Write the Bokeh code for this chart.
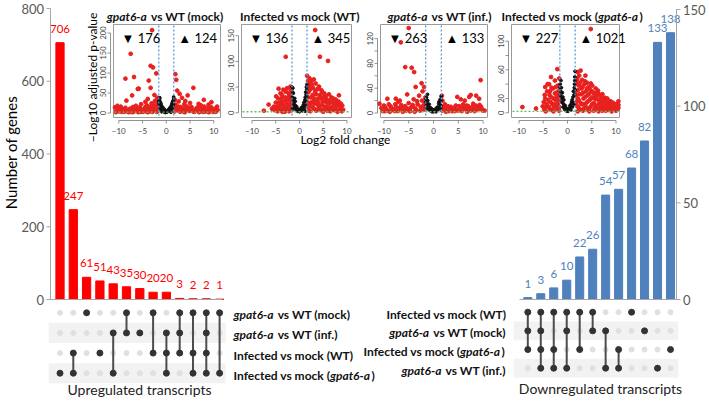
import math
from bokeh.plotting import figure
from bokeh.models import Range1d, ColumnDataSource
from bokeh.core.properties import value, field
from bokeh.embed import file_html
from bokeh.resources import INLINE

# ---------------- data ----------------
up_values = [706, 247, 61, 51, 43, 35, 30, 20, 20, 3, 2, 2, 1]
up_sets = ["*gpat6-a* vs WT (mock)", "*gpat6-a* vs WT (inf.)",
           "Infected vs mock (WT)", "Infected vs mock (*gpat6-a*)"]
up_members = [[3], [2, 3], [0], [2], [1, 3], [0, 1], [1], [0, 2], [1, 2, 3],
              [0, 1, 2], [0, 2, 3], [0, 1, 2, 3], [0, 3]]
up_ticks = [0, 200, 400, 600, 800]

down_values = [1, 3, 6, 10, 22, 26, 54, 57, 68, 82, 133, 138]
down_sets = ["Infected vs mock (WT)", "*gpat6-a* vs WT (mock)",
             "Infected vs mock (*gpat6-a*)", "*gpat6-a* vs WT (inf.)"]
down_members = [[0, 1, 2], [0, 1, 2, 3], [0, 2, 3], [0, 1, 3], [0, 2], [0, 1],
                [1, 3], [2, 3], [0], [1], [3], [2]]
down_ticks = [0, 50, 100, 150]

vol_titles = ["*gpat6-a* vs WT (mock)", "Infected vs mock (WT)",
              "*gpat6-a* vs WT (inf.)", "Infected vs mock (*gpat6-a*)"]
vol_down = [176, 136, 263, 227]
vol_up = [124, 345, 133, 1021]
vol_xticks = [-10, -5, 0, 5, 10]
vol_yticks = [[0, 50, 100, 150, 200], [0, 50, 100, 150],
              [0, 20, 40, 60, 80, 100, 120], [0, 20, 40, 60, 80, 100]]
vol_ylabels = [[0, 50, 100, 150, 200], [0, 50, 100, 150],
               [0, 40, 80, 120], [0, 20, 60, 100]]
fc_cut = 1.58
p_cut = 2.0

v1_red = [(-3.0,207),(-7.5,148),(-8.6,86),(-6.8,90),(-5.8,61),(-3.3,118),(-2.8,114),(-2.1,99),
          (-3.7,81),(-3.3,63),(-6.0,60),(-7.2,44),(-8.4,31),(-10.3,18),(1.9,97),(2.1,83),(2.3,56),
          (5.7,63),(4.5,44),(7.9,33),(9.5,27),(10.7,16),(6.8,23),(-2.5,45),
          (-10.8,14),(-10.2,10),(-9.6,16),(-9.1,8),(-8.6,13),(-8.1,6),(-7.6,11),(-7.0,15),(-6.6,5),
          (-6.1,9),(-5.6,14),(-5.1,6),(-4.6,11),(-4.1,19),(-3.6,8),(-3.1,24),(-2.8,12),(-2.4,30),
          (-2.2,6),(-2.0,18),(-1.9,38),(-1.7,10),(-1.8,26),(-4.4,28),(-5.3,22),(-3.9,35),(-6.4,18),
          (1.7,12),(1.8,33),(2.0,21),(2.3,8),(2.6,29),(3.0,15),(3.4,6),(3.8,22),(4.2,10),(4.9,5),
          (5.3,15),(5.9,8),(6.4,12),(7.0,5),(7.4,10),(8.0,16),(8.6,6),(9.1,11),(9.8,7),(10.5,12),
          (3.3,38),(2.8,48),(4.0,30),(5.0,25),(7.3,19),(8.9,21),
          (-9.9,4),(-8.9,3),(-7.9,2),(-6.9,3),(-5.9,2),(-4.9,3),(-3.9,2),(-2.9,3),(2.9,3),(3.9,2),
          (4.9,12),(5.9,3),(6.9,2),(7.9,3),(8.9,2),(9.9,3),(-10.5,6),(-9.3,11),(-7.3,7),(-5.3,9),
          (-4.3,4),(-3.3,16),(-2.6,20),(2.5,16),(3.6,13),(4.6,8),(6.1,5),(6.8,10),(8.3,4),(9.5,14),
          (10.2,5),(-10.6,2),(-10.0,7),(-9.4,3),(-8.8,9),(-8.3,4),(-7.7,8),(-7.2,2),(-6.8,7),
          (-6.3,12),(-5.8,5),(-5.4,3),(-4.8,8),(-4.4,15),(-3.8,12),(-3.4,4),(-2.5,9),(-2.0,3),
          (-1.75,18),(1.75,4),(2.1,12),(2.6,6),(3.2,10),(3.7,3),(4.4,16),(5.1,9),(5.6,4),(6.2,8),
          (6.7,15),(7.2,7),(7.7,3),(8.2,9),(8.8,13),(9.3,4),(9.7,9),(10.4,3),(10.8,8)]
v1_black = [(-1.55,30),(-1.45,20),(-1.35,38),(-1.25,12),(-1.1,22),(-0.95,8),(-0.8,15),(-0.6,5),
            (-0.45,10),(-0.3,3),(-0.1,6),(0.1,2),(0.3,5),(0.5,9),(0.65,4),(0.8,14),(0.95,7),
            (1.1,20),(1.25,11),(1.35,28),(1.45,17),(1.55,35),(-1.0,3),(1.0,2),(-0.2,1),
            (-1.5,25),(-1.4,32),(-1.3,18),(-1.2,26),(-1.15,8),(-1.0,16),(-0.9,12),(-0.7,9),
            (-0.55,3),(-0.4,6),(0.0,4),(0.2,3),(0.4,7),(0.6,8),(0.75,10),(0.9,12),(1.05,15),
            (1.2,24),(1.3,18),(1.4,30),(1.5,22),(1.55,40)]

v2_red = [(3.3,161),(-2.9,109),(4.3,109),(6.0,101),(-7.5,4),(-6.5,16),
          (-4.4,47),(-1.9,51),(-3.7,35),(-2.9,41),(-5.0,20),(-4.8,8),(-4.5,28),(-4.2,15),(-3.9,5),
          (-3.6,22),(-3.3,12),(-3.0,30),(-2.7,18),(-2.5,6),(-2.3,38),(-2.1,25),(-1.9,12),(-1.8,44),
          (-1.7,30),(-1.65,5),(-4.0,38),(-3.4,45),(-2.6,48),(-5.4,12),(-4.6,3),(-3.1,2),(-2.2,3),
          (1.6,72),(2.1,67),(3.0,65),(3.4,57),(4.1,51),(5.2,38),(8.3,34),(7.6,26),(9.0,14),(1.7,50),
          (1.8,30),(1.9,10),(2.2,45),(2.4,20),(2.6,55),(2.8,35),(3.1,8),(3.3,42),(3.6,25),(3.9,15),
          (4.3,35),(4.6,5),(4.9,22),(5.3,12),(5.6,28),(6.0,8),(6.3,18),(6.7,30),(7.0,12),(7.4,5),
          (7.8,15),(8.2,22),(8.6,8),(8.9,3),(2.5,62),(4.6,44),(6.2,36),(2.0,58),(5.8,20),(7.2,20),
          (2.3,3),(3.5,4),(5.0,2),(6.5,3),(8.0,2),(4.0,28),(3.0,22),(2.0,16),
          (-4.9,32),(-4.7,12),(-4.3,20),(-4.1,9),(-3.8,28),(-3.5,16),(-3.2,6),(-2.9,24),(-2.8,10),
          (-2.4,30),(-2.2,15),(-2.0,35),(-1.85,22),(-1.7,16),(-3.6,2),(-5.2,5),(-5.8,8),
          (1.7,20),(1.8,62),(1.9,40),(2.0,4),(2.3,52),(2.4,30),(2.7,12),(2.9,48),(3.0,28),(3.2,18),
          (3.5,36),(3.7,6),(3.8,46),(4.0,20),(4.2,10),(4.5,28),(4.7,15),(4.8,40),(5.0,30),(5.1,6),
          (5.4,22),(5.5,33),(5.7,12),(5.9,4),(6.1,24),(6.4,10),(6.6,22),(6.9,6),(7.1,28),(7.3,16),
          (7.6,10),(7.9,20),(8.1,4),(8.4,14),(8.7,18),(9.2,6)]
v2_black = [(-1.55,50),(-1.45,40),(-1.35,28),(-1.2,18),(-1.05,10),(-0.9,22),(-0.75,6),(-0.6,12),
            (-0.4,3),(-0.2,7),(0.0,2),(0.2,5),(0.4,10),(0.6,4),(0.8,15),(1.0,8),(1.15,25),(1.3,14),
            (1.4,35),(1.5,45),(1.55,55),(-1.5,8),(1.2,3),
            (-1.5,30),(-1.4,48),(-1.3,38),(-1.25,22),(-1.1,15),(-1.0,28),(-0.85,14),(-0.7,9),
            (-0.5,6),(-0.3,4),(0.1,3),(0.3,6),(0.5,8),(0.7,11),(0.9,20),(1.05,14),(1.2,30),
            (1.3,40),(1.35,22),(1.45,50),(1.5,30)]

v3_red = [(-5.0,137),(-6.6,114),(-5.7,74),(-4.4,73),(-3.9,66),(-3.6,42),(-1.9,42),(-2.2,35),
          (-9.3,23),(-7.6,23),(-7.1,18),(-10.9,15),(4.8,26),(5.5,22),(7.2,26),(7.5,29),(8.0,15),
          (9.2,23),(9.5,53),
          (-10.5,8),(-10.0,12),(-9.5,5),(-9.0,14),(-8.5,9),(-8.0,4),(-7.5,10),(-7.0,6),(-6.5,13),
          (-6.0,8),(-5.5,4),(-5.0,16),(-4.5,9),(-4.0,22),(-3.5,5),(-3.2,14),(-2.9,28),(-2.6,10),
          (-2.3,20),(-2.0,6),(-1.8,15),(-1.65,25),(-5.3,30),(-6.8,20),(-2.4,48),
          (1.7,10),(1.8,20),(2.0,5),(2.3,14),(2.7,8),(3.1,3),(3.5,10),(4.0,6),(4.5,12),(5.0,4),
          (5.5,9),(6.0,14),(6.5,6),(7.0,11),(7.5,4),(8.0,8),(8.5,12),(9.0,6),(9.6,10),(1.7,28),
          (6.3,20),(8.6,28),(-9.8,3),(-8.8,2),(-7.8,3),(-6.2,2),(-4.8,3),(-3.8,2),(2.5,2),(4.3,3),
          (6.8,2),(8.3,3),(9.9,4),
          (-10.2,3),(-9.7,9),(-9.2,4),(-8.7,11),(-8.2,6),(-7.7,14),(-7.2,3),(-6.7,9),(-6.2,5),
          (-5.7,11),(-5.2,7),(-4.7,3),(-4.2,13),(-3.7,8),(-3.3,19),(-2.7,4),(-2.1,11),(-1.75,6),
          (1.75,4),(2.1,9),(2.5,5),(2.9,11),(3.3,6),(3.8,3),(4.2,8),(4.7,5),(5.2,11),(5.7,3),
          (6.2,8),(6.7,12),(7.2,6),(7.7,9),(8.2,4),(8.8,9),(9.3,13),(9.8,6),(10.3,4)]
v3_black = [(-1.55,18),(-1.4,25),(-1.3,12),(-1.15,20),(-1.0,6),(-0.85,14),(-0.7,4),(-0.5,8),
            (-0.3,2),(-0.1,5),(0.1,3),(0.3,6),(0.5,2),(0.7,9),(0.9,5),(1.05,15),(1.2,8),(1.35,22),
            (1.5,12),(1.55,27),(-1.2,30),
            (-1.5,22),(-1.45,12),(-1.35,18),(-1.25,8),(-1.1,14),(-0.95,10),(-0.8,6),(-0.6,4),
            (-0.4,3),(0.0,2),(0.2,4),(0.4,4),(0.6,6),(0.8,7),(1.0,10),(1.1,18),(1.25,14),
            (1.4,18),(1.45,8),(1.5,20)]

v4_red = [(4.8,117),(-2.1,61),(-3.4,50),(-4.6,36),(-2.6,27),(-9.3,8),(-6.5,6),(-5.1,9),(2.1,57),
          (2.7,59),(3.7,52),(4.8,41),(5.8,34),(6.8,25),(7.7,21),(9.4,14),(10.5,16),
          (-4.9,15),(-4.7,25),(-4.4,8),(-4.2,30),(-4.0,18),(-3.8,40),(-3.6,5),(-3.4,22),(-3.2,12),
          (-3.0,34),(-2.8,8),(-2.6,45),(-2.5,18),(-2.3,28),(-2.1,5),(-2.0,38),(-1.9,14),(-1.8,24),
          (-1.7,48),(-1.65,8),(-3.6,30),(-4.5,2),(-2.9,2),
          (1.7,40),(1.8,25),(1.9,10),(2.0,48),(2.2,32),(2.3,18),(2.5,5),(2.6,42),(2.8,26),(2.9,12),
          (3.1,36),(3.3,20),(3.4,6),(3.6,44),(3.8,30),(3.9,14),(4.1,24),(4.3,4),(4.4,36),(4.6,18),
          (4.8,9),(5.0,30),(5.2,22),(5.4,3),(5.5,14),(5.7,27),(5.9,8),(6.1,19),(6.3,31),(6.5,12),
          (6.7,4),(6.9,22),(7.1,15),(7.3,8),(7.5,18),(7.7,12),(7.9,3),(8.1,14),(8.3,9),(8.6,16),
          (8.8,5),(9.0,11),(9.3,8),(9.6,12),(9.9,4),(10.2,10),(10.5,7),(3.0,46),(4.0,42),(2.4,52),
          (5.1,38),(6.0,28),(2.1,2),(3.2,3),(4.5,2),(5.6,6),(6.4,2),(7.2,3),(8.0,6),(9.1,2),(10.0,3),
          (-4.8,5),(-4.6,20),(-4.3,12),(-4.1,40),(-3.9,8),(-3.7,25),(-3.5,15),(-3.3,35),(-3.1,4),
          (-2.9,20),(-2.7,12),(-2.4,36),(-2.2,22),(-2.0,10),(-1.85,30),(-1.75,3),(-1.7,18),
          (1.7,30),(1.8,15),(1.9,44),(2.1,20),(2.2,8),(2.4,38),(2.5,26),(2.7,14),(2.9,34),(3.0,4),
          (3.2,28),(3.3,12),(3.5,40),(3.6,22),(3.8,8),(4.0,34),(4.2,16),(4.4,26),(4.5,6),(4.7,32),
          (4.9,20),(5.1,12),(5.3,28),(5.6,20),(5.8,10),(6.0,24),(6.2,6),(6.4,26),(6.6,16),(6.8,8),
          (7.0,20),(7.2,26),(7.4,12),(7.6,5),(7.8,16),(8.0,10),(8.2,20),(8.4,4),(8.5,12),(8.7,8),
          (8.9,16),(9.2,4),(9.4,10),(9.7,6),(10.0,12),(10.3,5),(10.5,11)]
v4_black = [(-1.55,35),(-1.45,25),(-1.35,45),(-1.2,15),(-1.05,28),(-0.9,8),(-0.75,18),(-0.6,5),
            (-0.45,10),(-0.3,3),(-0.1,6),(0.1,2),(0.3,5),(0.5,10),(0.7,4),(0.85,15),(1.0,8),
            (1.15,22),(1.3,12),(1.4,35),(1.5,45),(1.55,58),(1.45,25),
            (-1.5,40),(-1.4,30),(-1.3,22),(-1.25,35),(-1.15,20),(-1.0,14),(-0.95,22),(-0.8,12),
            (-0.65,8),(-0.5,5),(-0.2,3),(0.0,3),(0.2,4),(0.4,6),(0.6,9),(0.75,12),(0.95,18),
            (1.1,14),(1.2,30),(1.35,25),(1.45,40),(1.5,50),(1.55,32)]

vol_red = [v1_red, v2_red, v3_red, v4_red]
vol_black = [v1_black, v2_black, v3_black, v4_black]

# ---------------- layout (reference pixels) ----------------
W, H = 709, 401
OX, OY = 0, 0
FONT = "Lato"
RED = "#ff0000"
BLUE = "#4f81bd"
AXIS = "#a6a6a6"
TICKTXT = "#595959"

# panel geometry: x-pixel of 0, px per unit, box left/right, y-pixel of 0, px per unit
vol_geo = [dict(x0=165.8, xs=4.75, bl=113, br=220, y0=112.5, ys=0.40, tx=164.5),
           dict(x0=299.0, xs=4.75, bl=241, br=351, y0=112.3, ys=0.514, tx=299),
           dict(x0=433.0, xs=4.96, bl=380, br=487, y0=112.5, ys=0.62, tx=439),
           dict(x0=567.0, xs=4.85, bl=511, br=619, y0=112.3, ys=0.716, tx=572)]
BOX_T, BOX_B = 24, 117


def xmap(d0, d1, p0, p1):
    s = (p1 - p0) / (d1 - d0)
    start = d0 - (p0 - OX) / s
    return Range1d(start=start, end=start + W / s)


def ymap(d0, d1, p0, p1):
    b0 = H - (p0 - OY)
    b1 = H - (p1 - OY)
    s = (b1 - b0) / (d1 - d0)
    start = d0 - b0 / s
    return Range1d(start=start, end=start + H / s)


p = figure(width=W, height=H, output_backend="svg", toolbar_location=None,
           min_border=0, x_axis_type=None, y_axis_type=None,
           x_range=Range1d(OX, OX + W), y_range=Range1d(OY + H, OY))
p.outline_line_color = None
p.background_fill_color = "white"
p.border_fill_color = "white"

xr = {"L": xmap(1, 13, 59.5, 219.1), "R": xmap(1, 12, 527.3, 670.0)}
yr = {"Ly": ymap(0, 800, 299, 8), "Ry": ymap(0, 150, 299, 9),
      "ML": ymap(0, 3, 312.3, 372.7), "MR": ymap(0, 3, 311.7, 367.7)}
for i, g in enumerate(vol_geo):
    xr[f"V{i}"] = xmap(0, 10, g["x0"], g["x0"] + 10 * g["xs"])
    yr[f"V{i}"] = ymap(0, 100, g["y0"], g["y0"] - 100 * g["ys"])
p.extra_x_ranges = xr
p.extra_y_ranges = yr

# ---------------- rich text helper ----------------
EM = {' ': .20, '(': .31, ')': .31, '-': .34, '.': .23, 'I': .29, 'W': .93, 'T': .56, 'M': .83,
      'a': .50, 'b': .55, 'c': .45, 'd': .55, 'e': .51, 'f': .32, 'g': .50, 'h': .55, 'i': .25,
      'k': .50, 'l': .25, 'm': .83, 'n': .55, 'o': .55, 'p': .55, 'r': .36, 's': .42, 't': .35,
      'u': .55, 'v': .50, 'w': .77, 'x': .49, 'y': .50}


def tw(s, size):
    return sum(EM.get(c, .58) for c in s) * size * 1.045


def draw_rich(s, x, y, align, size, yname="default", yoff=0):
    parts = s.split("*")
    segs = [(t, i % 2 == 1) for i, t in enumerate(parts) if t]
    total = sum(tw(t, size) for t, _ in segs)
    cur = {"left": 0, "right": -total, "center": -total / 2}[align]
    d = dict(x=[], y=[], text=[], xo=[], st=[])
    for t, it in segs:
        lead = len(t) - len(t.lstrip(" "))
        d["x"].append(x)
        d["y"].append(y)
        d["text"].append(t.strip(" "))
        d["xo"].append(cur + tw(" " * lead, size))
        d["st"].append("bold italic" if it else "bold")
        cur += tw(t, size)
    p.text(x="x", y="y", text="text", x_offset="xo", source=ColumnDataSource(d),
           text_font_style=field("st"), y_range_name=yname, y_offset=yoff,
           text_align="left", text_baseline="middle", text_font=value(FONT),
           text_font_size=f"{size}px", text_color="#111111")


# ---------------- upset helper ----------------
def upset(values, members, sets, xname, yname, myname, color, ticks, axis_px, side,
          base_px, band_lr, label_px, label_align):
    n = len(values)
    cols = list(range(1, n + 1))
    p.vbar(x=cols, top=values, bottom=0, width=0.62, color=color,
           x_range_name=xname, y_range_name=yname)
    p.text(x=cols, y=values, text=[str(v) for v in values], y_offset=-14,
           text_align="center", text_baseline="middle", text_color=color,
           text_font=value(FONT), text_font_size="11.5px",
           x_range_name=xname, y_range_name=yname)
    p.segment(x0=[axis_px], x1=[axis_px], y0=[ticks[0]], y1=[ticks[-1]],
              line_color=AXIS, line_width=1, y_range_name=yname)
    tdir = -4 if side == "left" else 4
    p.segment(x0=[axis_px] * len(ticks), x1=[axis_px + tdir] * len(ticks), y0=ticks, y1=ticks,
              line_color=AXIS, line_width=1, y_range_name=yname)
    p.text(x=[axis_px + (tdir * 1.6)] * len(ticks), y=ticks, text=[str(t) for t in ticks],
           text_align="right" if side == "left" else "left", text_baseline="middle",
           text_color=TICKTXT, text_font=value(FONT), text_font_size="13px",
           y_range_name=yname)
    p.segment(x0=[base_px[0]], x1=[base_px[1]], y0=[0], y1=[0], line_color=AXIS,
              line_width=1, y_range_name=yname)
    p.quad(left=[band_lr[0]] * 2, right=[band_lr[1]] * 2, top=[0.5, 2.5], bottom=[1.5, 3.5],
           fill_color="#f2f2f2", line_color=None, x_range_name=xname, y_range_name=myname)
    gx = [c for c in cols for r in range(4)]
    gy = [r for c in cols for r in range(4)]
    p.scatter(x=gx, y=gy, size=5, color="#e0e0e0", x_range_name=xname, y_range_name=myname)
    lx0, ly0, ly1 = [], [], []
    for c, m in zip(cols, members):
        if len(m) > 1:
            lx0.append(c)
            ly0.append(min(m))
            ly1.append(max(m))
    p.segment(x0=lx0, x1=lx0, y0=ly0, y1=ly1, line_color="#4d4d4d", line_width=2,
              x_range_name=xname, y_range_name=myname)
    dx = [c for c, m in zip(cols, members) for r in m]
    dy = [r for c, m in zip(cols, members) for r in m]
    p.scatter(x=dx, y=dy, size=6, color="#333333", x_range_name=xname, y_range_name=myname)
    for r, s in enumerate(sets):
        draw_rich(s, label_px, r, label_align, 12, yname=myname, yoff=2)


upset(up_values, up_members, up_sets, "L", "Ly", "ML", RED, up_ticks, 50, "left",
      (50, 222), (0.15, 13.45), 233, "left")
upset(down_values, down_members, down_sets, "R", "Ry", "MR", BLUE, down_ticks, 676, "right",
      (519, 676), (-0.1, 12.6), 505, "right")

# ---------------- volcano insets ----------------
for i, g in enumerate(vol_geo):
    nm = f"V{i}"
    p.quad(left=[g["bl"]], right=[g["br"]], top=[BOX_T], bottom=[BOX_B],
           fill_color="white", line_color="#9a9a9a", line_width=1)
    rx = [a for a, b in vol_red[i]]
    ry = [b for a, b in vol_red[i]]
    p.scatter(x=rx, y=ry, size=3.8, color="#e8211f", x_range_name=nm, y_range_name=nm)
    bx = [a for a, b in vol_black[i]]
    by = [b for a, b in vol_black[i]]
    p.scatter(x=bx, y=by, size=2.8, color="#111111", x_range_name=nm, y_range_name=nm)
    p.segment(x0=[-fc_cut, fc_cut], x1=[-fc_cut, fc_cut], y0=[BOX_T + 1] * 2, y1=[BOX_B - 1] * 2,
              line_color="#5b9bd5", line_dash="2 2", line_width=1.3, x_range_name=nm)
    p.segment(x0=[g["bl"] + 1], x1=[g["br"] - 1], y0=[p_cut], y1=[p_cut],
              line_color="#66bb66", line_dash="2 2", line_width=1.3, y_range_name=nm)
    p.segment(x0=[vol_xticks[0]], x1=[vol_xticks[-1]], y0=[BOX_B + 3], y1=[BOX_B + 3],
              line_color="#777777", line_width=0.8, x_range_name=nm)
    p.segment(x0=vol_xticks, x1=vol_xticks, y0=[BOX_B + 3] * 5, y1=[BOX_B + 6] * 5,
              line_color="#777777", line_width=0.8, x_range_name=nm)
    p.text(x=vol_xticks, y=[BOX_B + 13] * 5,
           text=[("\u2212" + str(-t)) if t < 0 else str(t) for t in vol_xticks],
           text_align="center", text_baseline="middle", text_font=value(FONT),
           text_font_size="8px", text_color="#444444", x_range_name=nm)
    yt = vol_yticks[i]
    p.segment(x0=[g["bl"] - 3], x1=[g["bl"] - 3], y0=[yt[0]], y1=[yt[-1]],
              line_color="#777777", line_width=0.8, y_range_name=nm)
    p.segment(x0=[g["bl"] - 3] * len(yt), x1=[g["bl"] - 6] * len(yt), y0=yt, y1=yt,
              line_color="#777777", line_width=0.8, y_range_name=nm)
    yl = vol_ylabels[i]
    p.text(x=[g["bl"] - 11] * len(yl), y=yl, text=[str(t) for t in yl], angle=math.pi / 2,
           text_align="center", text_baseline="middle", text_font=value(FONT),
           text_font_size="7.5px", text_color="#444444", y_range_name=nm)
    p.text(x=[g["bl"] + 8, g["x0"] + 12], y=[37, 37],
           text=[f"\u25bc {vol_down[i]}", f"\u25b2 {vol_up[i]}"],
           text_align="left", text_baseline="middle", text_font=value(FONT),
           text_font_size="13px", text_color="#000000")
    draw_rich(vol_titles[i], g["tx"], 16, "center", 12)

# ---------------- free labels ----------------
p.text(x=[92], y=[77], text=["\u2212Log10 adjusted p-value"], angle=math.pi / 2,
       text_align="center", text_baseline="middle", text_font=value(FONT),
       text_font_size="12px", text_color="#000000")
p.text(x=[345], y=[139], text=["Log2 fold change"], text_align="center", text_baseline="middle",
       text_font=value(FONT), text_font_size="12px", text_color="#000000")
p.text(x=[10], y=[152], text=["Number of genes"], angle=math.pi / 2, text_align="center",
       text_baseline="middle", text_font=value(FONT), text_font_size="15px", text_color="#000000")
p.text(x=[139], y=[389], text=["Upregulated transcripts"], text_align="center",
       text_baseline="middle", text_font=value(FONT), text_font_size="14px", text_color="#222222")
p.text(x=[600], y=[388], text=["Downregulated transcripts"], text_align="center",
       text_baseline="middle", text_font=value(FONT), text_font_size="14px", text_color="#222222")

open("out.html", "w").write(file_html(p, INLINE))
